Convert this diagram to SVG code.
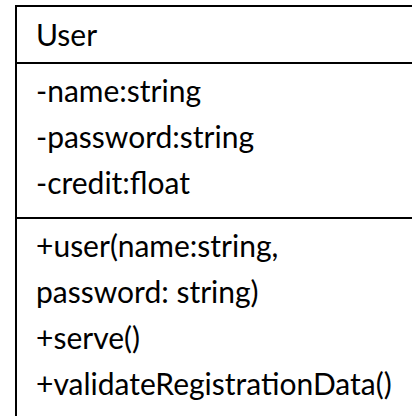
<svg xmlns="http://www.w3.org/2000/svg" width="412" height="419" viewBox="0 0 412 419">
<style>
.t{font-family:Lato,"Open Sans","Liberation Sans",sans-serif;font-size:30px;fill:#000}
.b{stroke:#000;stroke-width:2;fill:none}
</style>
<rect width="412" height="419" fill="#fff"/>
<g id="User">
<line class="b" x1="16" y1="6" x2="412" y2="6"/>
<line class="b" x1="16" y1="5" x2="16" y2="416"/>
<line class="b" x1="16" y1="63" x2="412" y2="63"/>
<line class="b" x1="16" y1="218" x2="412" y2="218"/>
<text class="t" x="36" y="46">User</text>
<text class="t" x="36" y="102">-name:string</text>
<text class="t" x="36" y="148">-password:string</text>
<text class="t" x="36" y="194">-credit:float</text>
<text class="t" x="36" y="257">+user(name:string,</text>
<text class="t" x="36" y="303">password: string)</text>
<text class="t" x="36" y="349">+serve()</text>
<text class="t" x="36" y="395">+validateRegistrationData()</text>
</g>
<g id="connectors"></g>
</svg>
